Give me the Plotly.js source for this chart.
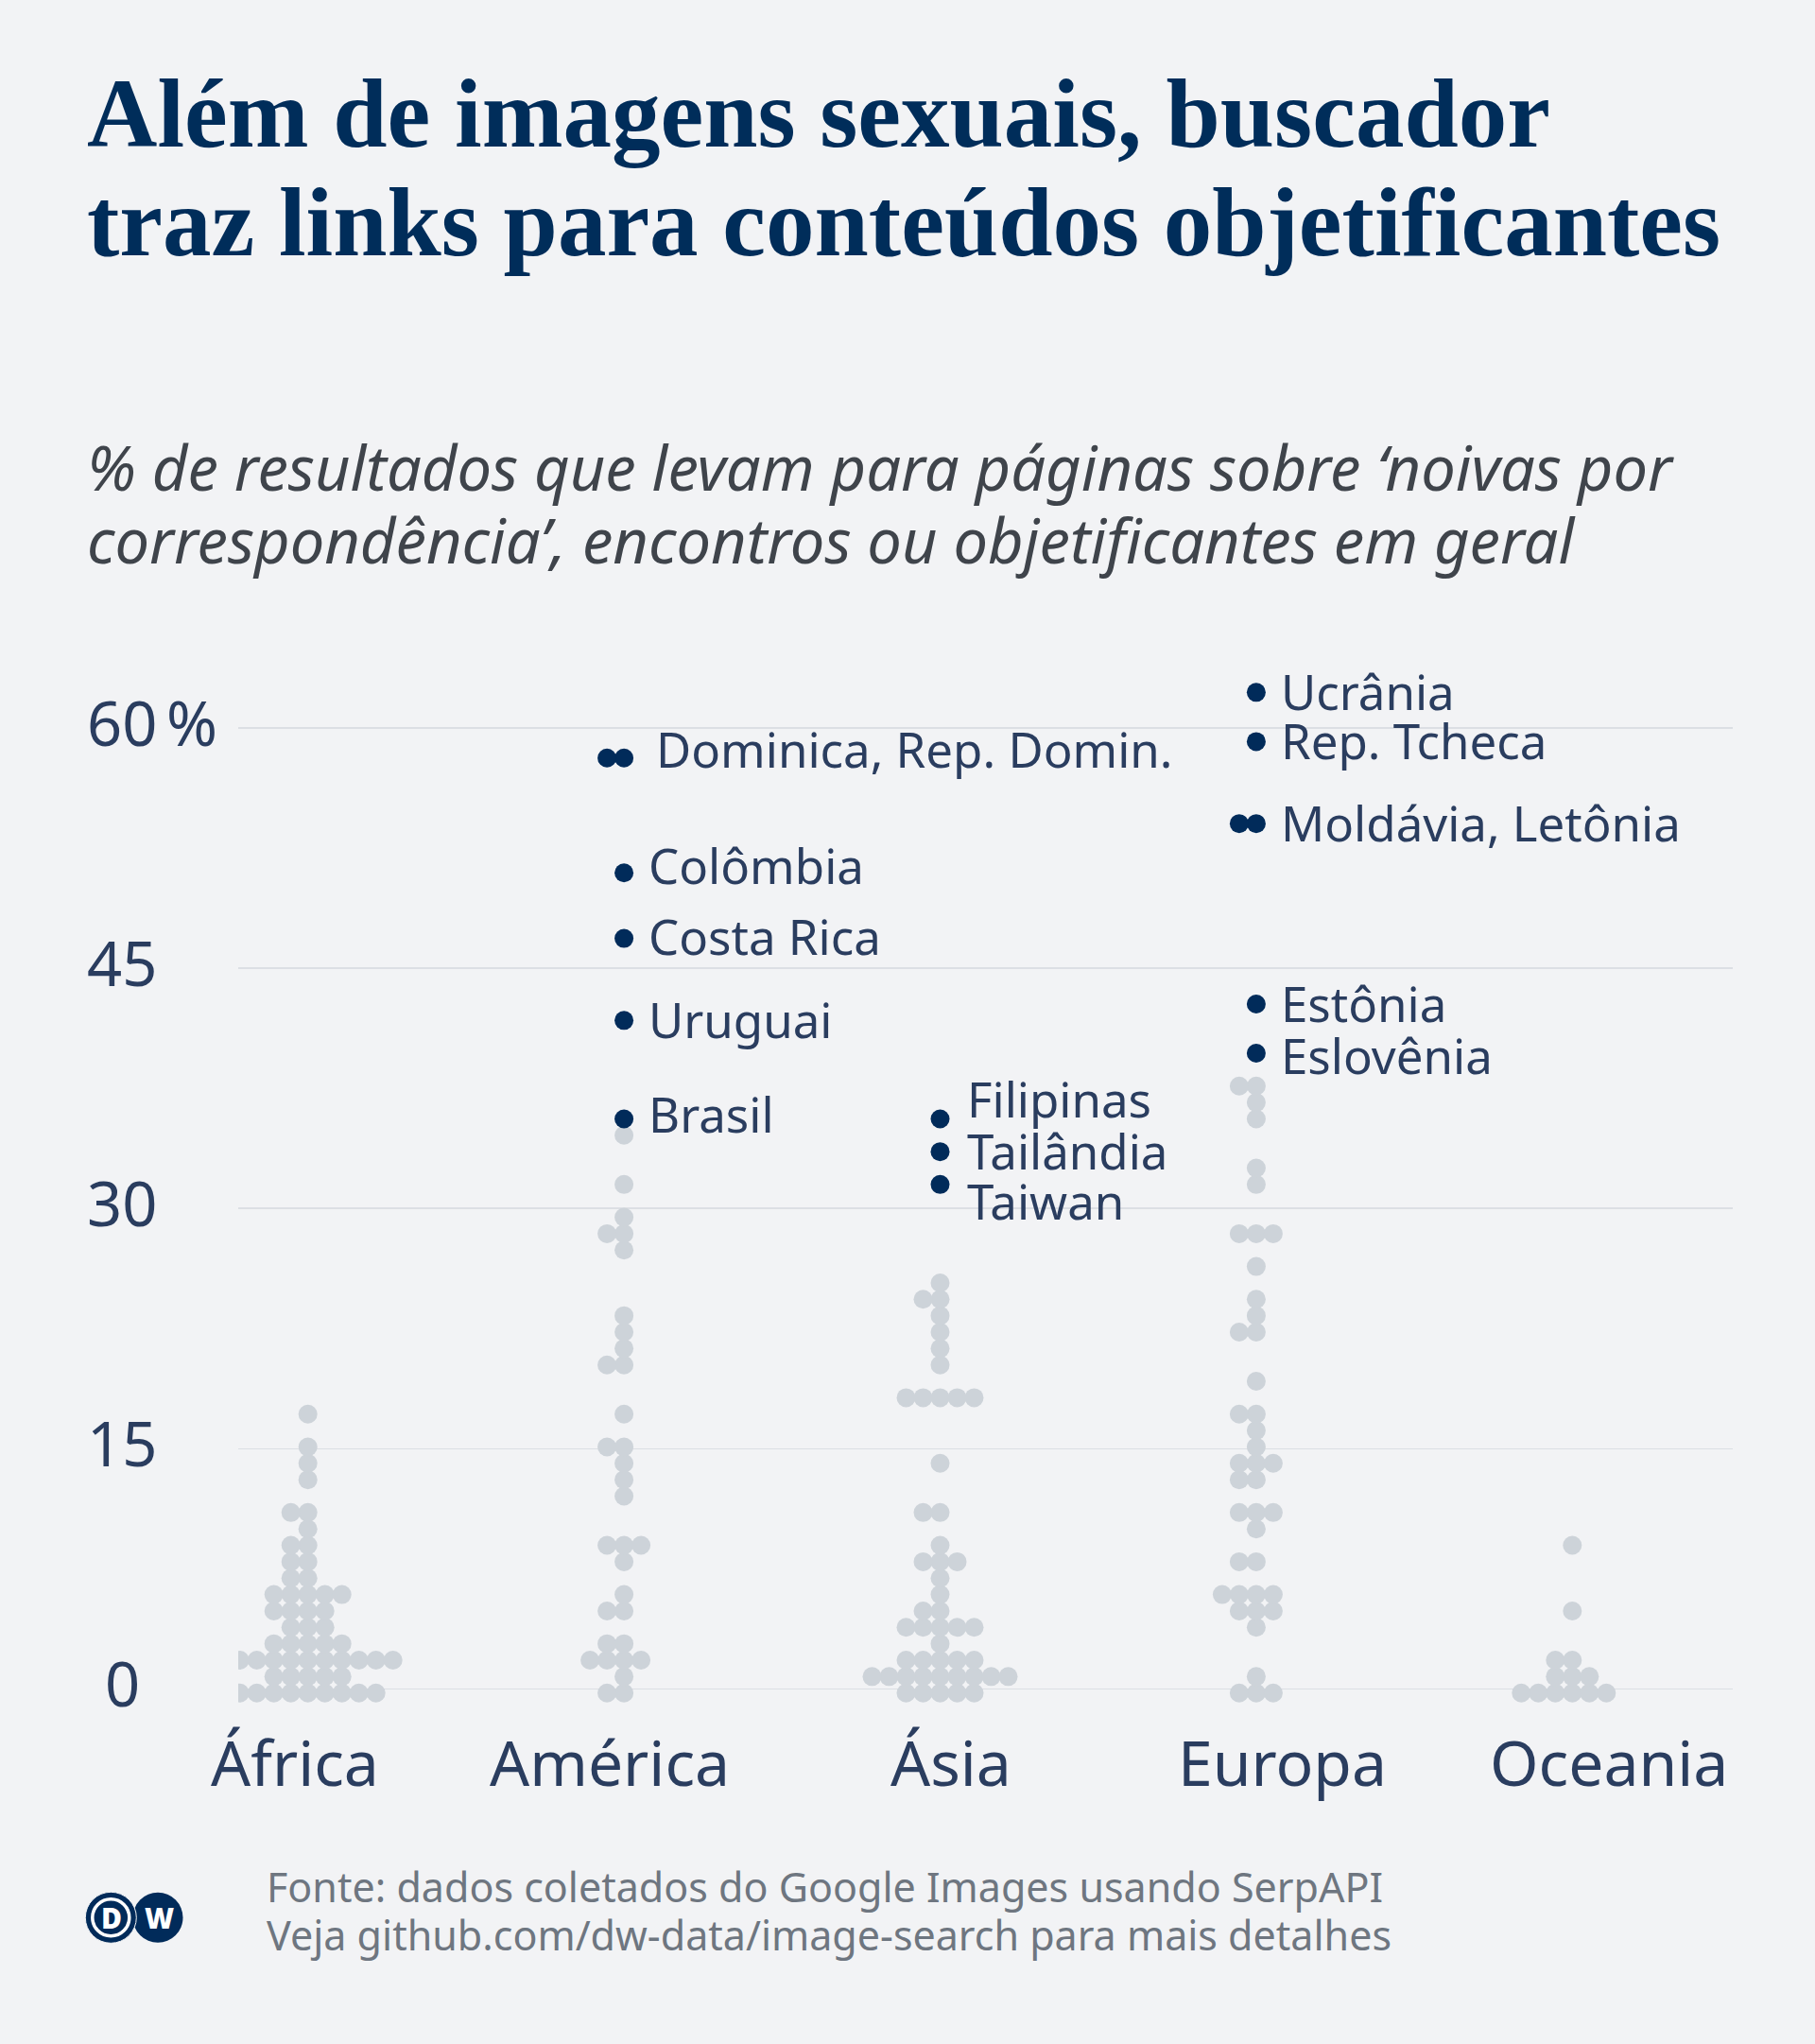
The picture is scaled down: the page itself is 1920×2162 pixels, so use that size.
<!DOCTYPE html>
<html>
<head>
<meta charset="utf-8">
<script src="https://cdn.plot.ly/plotly-3.0.1.min.js"></script>
<style>
  html, body { margin: 0; padding: 0; background: #f2f3f5; }
  #chart { width: 1920px; height: 2162px; }
</style>
</head>
<body>
<div id="chart"></div>
<script>
// ---------------- DATA ----------------
const continents = ['África', 'América', 'Ásia', 'Europa', 'Oceania'];

// % of results leading to pages on 'mail-order brides', dating or objectifying content (grey dots)
const africaValues = [0, 0, 0, 0, 0, 0, 0, 0, 0,
  0.8, 0.8, 0.8, 0.8, 0.8,
  1.8, 1.8, 1.8, 1.8, 1.8, 1.8, 1.8, 1.8, 1.8, 1.8, 1.8,
  2.8, 2.8, 2.8, 2.8, 2.8,
  3.8, 3.8, 3.8,
  4.9, 4.9, 4.9, 4.9,
  5.9, 5.9, 5.9, 5.9, 5.9,
  6.9, 6.9, 7.9, 7.9, 9.0, 9.0, 10.0, 11.0, 11.0, 13.1, 14.1, 15.1, 17.2];

const americaValues = [0, 0, 0.8, 1.8, 1.8, 1.8, 1.8, 2.8, 2.8, 4.9, 4.9, 5.9, 7.9,
  9.0, 9.0, 9.0, 12.0, 13.1, 14.1, 15.1, 15.1, 17.2, 20.2, 20.2, 21.3, 22.3, 23.3,
  27.4, 28.4, 28.4, 29.5, 31.5, 34.6];

const asiaValues = [0, 0, 0, 0, 0,
  0.8, 0.8, 0.8, 0.8, 0.8, 0.8, 0.8, 0.8, 0.8,
  1.8, 1.8, 1.8, 1.8, 1.8,
  2.8,
  3.8, 3.8, 3.8, 3.8, 3.8,
  4.9, 4.9, 5.9, 6.9, 7.9, 7.9, 7.9, 9.0, 11.0, 11.0, 14.1,
  18.2, 18.2, 18.2, 18.2, 18.2,
  20.2, 21.3, 22.3, 23.3, 24.3, 24.3, 25.4];

const europeValues = [0, 0, 0, 0.8, 3.8, 4.9, 4.9, 4.9, 5.9, 5.9, 5.9, 5.9, 7.9, 7.9,
  10.0, 11.0, 11.0, 11.0, 13.1, 13.1, 14.1, 14.1, 14.1, 15.1, 16.1, 17.2, 17.2, 19.2,
  22.3, 22.3, 23.3, 24.3, 26.4, 28.4, 28.4, 28.4, 31.5, 32.5, 35.6, 36.6, 37.6, 37.6];

const oceaniaValues = [0, 0, 0, 0, 0, 0, 0.8, 0.8, 0.8, 1.8, 1.8, 4.9, 9.0];

// highlighted countries (dark dots)
const hlNames     = ['Dominica', 'Rep. Domin.', 'Colômbia', 'Costa Rica', 'Uruguai', 'Brasil',
                     'Filipinas', 'Tailândia', 'Taiwan',
                     'Ucrânia', 'Rep. Tcheca', 'Moldávia', 'Letônia', 'Estônia', 'Eslovênia'];
const hlContinent = ['América', 'América', 'América', 'América', 'América', 'América',
                     'Ásia', 'Ásia', 'Ásia',
                     'Europa', 'Europa', 'Europa', 'Europa', 'Europa', 'Europa'];
const hlValues    = [58.1, 58.1, 51.0, 46.9, 41.7, 35.6,
                     35.6, 33.5, 31.5,
                     62.2, 59.2, 54.0, 54.0, 42.8, 39.7];

const yTickValues = [0, 15, 30, 45, 60];
const yTickLabels = ['0', '15', '30', '45', '60'];

const titleLines = ['Além de imagens sexuais, buscador', 'traz links para conteúdos objetificantes'];
const subtitleLines = ['% de resultados que levam para páginas sobre ‘noivas por',
                       'correspondência’, encontros ou objetificantes em geral'];
const footerLines = ['Fonte: dados coletados do Google Images usando SerpAPI',
                     'Veja github.com/dw-data/image-search para mais detalhes'];

// ---------------- LAYOUT CONSTANTS ----------------
const greyValues = [africaValues, americaValues, asiaValues, europeValues, oceaniaValues];
const PLOT = { l: 252, r: 1833, t: 680, b: 1820 };
const Y0PX = 1786.4, PX_PER_UNIT = 16.94;
const COL0PX = 325.7, COLPX = 334.4;
const ROW_STEP = 1.0242, ROW_OFFSET = -0.254;
const DOT_STEP_PX = 18;
const DOT_SIZE = 20;
const C_GREY = '#cdd3d9', C_DARK = '#012b5a', C_TEXT = '#2a3d5f', C_BG = '#f2f3f5';
const labelCentersPx = [312, 644.6, 1006, 1356, 1701.5];
// extra vertical shift (px, up positive) of label text relative to its dot (label repel)
const labelShift = { 'Dominica': 8, 'Colômbia': 7, 'Costa Rica': 1.5, 'Brasil': 3.5,
                     'Filipinas': 20, 'Taiwan': -18.5, 'Eslovênia': -3 };
const labelXShift = { 'América': 24, 'Ásia': 26, 'Europa': 24 };

const px2x = px => (px - PLOT.l) / (PLOT.r - PLOT.l);
const px2y = py => (PLOT.b - py) / (PLOT.b - PLOT.t);
const rowOf = v => Math.round((v - ROW_OFFSET) / ROW_STEP);
const slot = j => j === 0 ? 0 : (j % 2 === 1 ? -(j + 1) / 2 : j / 2);

// ---------------- SWARM (grid dot layout) ----------------
const gx = [], gy = [], hx = [], hy = [], hText = [];
const labels = [];
continents.forEach((cont, ci) => {
  const dots = [];
  hlValues.forEach((v, k) => { if (hlContinent[k] === cont) dots.push({ v, hl: true, name: hlNames[k] }); });
  greyValues[ci].forEach(v => dots.push({ v, hl: false }));
  const rows = {};
  dots.forEach(d => { const r = rowOf(d.v); (rows[r] = rows[r] || []).push(d); });
  Object.keys(rows).forEach(r => {
    const ds = rows[r];
    const y = Number(r) * ROW_STEP + ROW_OFFSET;
    ds.forEach((d, j) => {
      const x = ci + slot(j) * DOT_STEP_PX / COLPX;
      if (d.hl) { hx.push(x); hy.push(y); hText.push(d.name); }
      else { gx.push(x); gy.push(y); }
    });
    const names = ds.filter(d => d.hl).map(d => d.name);
    if (names.length) labels.push({ text: names.join(', '), x: ci, y, cont, first: names[0], multi: names.length > 1 });
  });
});

const traces = [
  { type: 'scatter', mode: 'markers', x: gx, y: gy, hoverinfo: 'skip',
    marker: { size: DOT_SIZE, color: C_GREY, line: { width: 0 } } },
  { type: 'scatter', mode: 'markers', x: hx, y: hy, text: hText, hoverinfo: 'text',
    marker: { size: DOT_SIZE, color: C_DARK, line: { width: 0 } } }
];

// ---------------- ANNOTATIONS ----------------
const ann = [];
const sans = 'Noto Sans, Open Sans, sans-serif';
// title
const titleBase = [156, 270];
titleLines.forEach((t, i) => ann.push({
  text: t, xref: 'paper', yref: 'paper', x: px2x(90), y: px2y(titleBase[i] - 35),
  xanchor: 'left', yanchor: 'middle', showarrow: false,
  font: { family: 'Liberation Serif, Times New Roman, serif', size: 103, color: '#002d5a', weight: 700 }
}));
// subtitle
const subBase = [519, 596];
subtitleLines.forEach((t, i) => ann.push({
  text: t, xref: 'paper', yref: 'paper', x: px2x(90), y: px2y(subBase[i] - 25),
  xanchor: 'left', yanchor: 'middle', showarrow: false,
  font: { family: sans, size: 65, color: '#3f444b', style: 'italic' }
}));
// y tick labels
yTickValues.forEach((v, i) => ann.push({
  text: yTickLabels[i], xref: 'paper', yref: 'y', x: px2x(129), y: v, yshift: 6,
  xanchor: 'center', yanchor: 'middle', showarrow: false,
  font: { family: sans, size: 65, color: C_TEXT }
}));
ann.push({
  text: '%', xref: 'paper', yref: 'y', x: px2x(174), y: yTickValues[yTickValues.length - 1], yshift: 6,
  xanchor: 'left', yanchor: 'middle', showarrow: false,
  font: { family: sans, size: 65, color: C_TEXT }
});
// category labels
continents.forEach((c, i) => ann.push({
  text: c, xref: 'paper', yref: 'paper', x: px2x(labelCentersPx[i]), y: px2y(1862.5),
  xanchor: 'center', yanchor: 'middle', showarrow: false,
  font: { family: sans, size: 66, color: C_TEXT }
}));
// highlight labels
labels.forEach(l => ann.push({
  text: l.text, xref: 'x', yref: 'y', x: l.x, y: l.y,
  xshift: labelXShift[l.cont] + (l.multi && l.cont === 'América' ? 8 : 0),
  yshift: 1.5 + (labelShift[l.first] || 0),
  xanchor: 'left', yanchor: 'middle', showarrow: false,
  font: { family: sans, size: 51, color: C_TEXT }
}));
// footer
const footBase = [2011.7, 2063.3];
footerLines.forEach((t, i) => ann.push({
  text: t, xref: 'paper', yref: 'paper', x: px2x(280), y: px2y(footBase[i] - 16.5),
  xanchor: 'left', yanchor: 'middle', showarrow: false,
  font: { family: sans, size: 43, color: '#6e7680' }
}));

// ---------------- DW LOGO ----------------
const circ = (cx, cy, r, fill, line) => ({
  type: 'circle', xref: 'paper', yref: 'paper', layer: 'above',
  x0: px2x(cx - r), x1: px2x(cx + r), y0: px2y(cy + r), y1: px2y(cy - r),
  fillcolor: fill, line: line || { width: 0 }
});
const shapes = [
  circ(167, 2028.3, 26.5, C_DARK),
  circ(117.3, 2028.3, 27, C_DARK, { color: C_BG, width: 1 }),
  circ(117.3, 2028.3, 19.5, 'rgba(0,0,0,0)', { color: '#ffffff', width: 3.5 })
];
ann.push({ text: 'D', xref: 'paper', yref: 'paper', x: px2x(117.8), y: px2y(2028.3),
  xanchor: 'center', yanchor: 'middle', showarrow: false,
  font: { family: sans, size: 30, color: '#ffffff', weight: 900 } });
ann.push({ text: 'W', xref: 'paper', yref: 'paper', x: px2x(168), y: px2y(2028.3),
  xanchor: 'center', yanchor: 'middle', showarrow: false,
  font: { family: sans, size: 30, color: '#ffffff', weight: 900 } });

const layout = {
  width: 1920, height: 2162,
  margin: { l: PLOT.l, r: 1920 - PLOT.r, t: PLOT.t, b: 2162 - PLOT.b, pad: 0 },
  paper_bgcolor: C_BG, plot_bgcolor: C_BG,
  showlegend: false,
  xaxis: {
    range: [(PLOT.l - COL0PX) / COLPX, (PLOT.r - COL0PX) / COLPX],
    showgrid: false, zeroline: false, showticklabels: false, ticks: '', showline: false, fixedrange: true
  },
  yaxis: {
    range: [(Y0PX - PLOT.b) / PX_PER_UNIT, (Y0PX - PLOT.t) / PX_PER_UNIT],
    tickvals: yTickValues, showticklabels: false, ticks: '',
    showgrid: true, gridcolor: '#dcdfe4', gridwidth: 1.5, zeroline: false, showline: false, fixedrange: true
  },
  annotations: ann,
  shapes: shapes
};

Plotly.newPlot('chart', traces, layout, { displayModeBar: false, staticPlot: true });
</script>
</body>
</html>
